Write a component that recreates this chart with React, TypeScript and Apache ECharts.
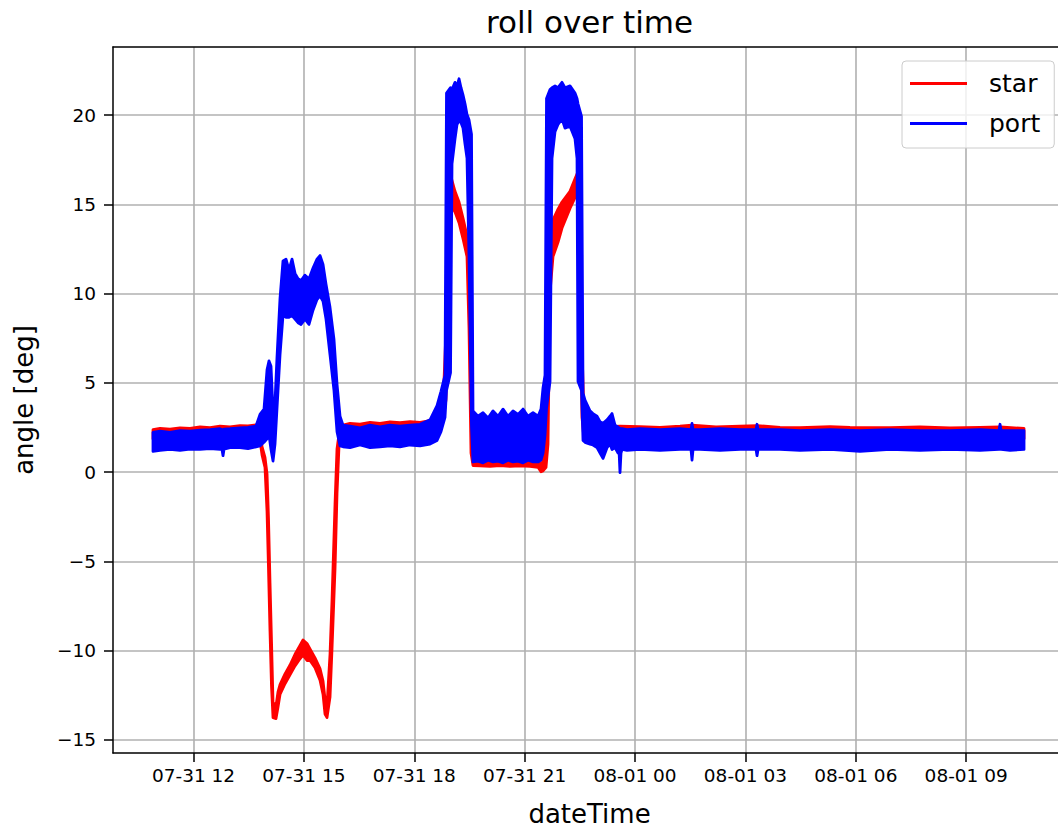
import React, { useEffect, useRef } from 'react';
import * as echarts from 'echarts';

// time in hours since 07-31 00:00
const starHours = [
  10.899, 11.090, 11.361, 11.633, 11.905, 12.177, 12.448, 12.720, 12.992, 13.264, 13.481, 13.699,
  13.807, 13.862, 13.943, 13.998, 14.038, 14.079, 14.120, 14.161, 14.242, 14.297, 14.351, 14.487,
  14.623, 14.759, 14.894, 14.976, 15.085, 15.166, 15.302, 15.438, 15.520, 15.574, 15.628, 15.710,
  15.764, 15.846, 15.900, 15.954, 16.063, 16.253, 16.525, 16.797, 17.069, 17.340, 17.612, 17.884,
  18.156, 18.428, 18.618, 18.781, 18.862, 18.930, 18.998, 19.107, 19.216, 19.324, 19.433, 19.487,
  19.542, 19.596, 19.786, 20.058, 20.330, 20.602, 20.874, 21.145, 21.363, 21.444, 21.499, 21.580,
  21.634, 21.689, 21.770, 21.906, 22.015, 22.232, 22.368, 22.450, 22.504, 22.558, 22.613, 22.776,
  23.048, 23.319, 23.591, 24.135, 24.678, 25.222, 25.548, 26.200, 26.853, 27.315, 27.940, 28.483,
  29.299, 29.842, 30.929, 31.745, 32.560, 33.375, 33.919, 34.571,
];
const starLow = [
  1.87, 1.92, 1.92, 1.92, 1.97, 1.97, 1.97, 2.02, 2.02, 2.02, 2.07, 2.07,
  1.77, 0.97, 0.27, -2.20, -5.40, -8.90, -12.00, -13.75, -13.80, -13.15, -12.45, -11.85,
  -11.35, -10.85, -10.45, -10.25, -10.55, -10.55, -10.95, -11.65, -12.45, -13.55, -13.75, -12.60,
  -9.90, -5.40, -1.20, 1.47, 1.97, 2.07, 2.07, 2.07, 2.07, 2.12, 2.12, 2.12,
  2.12, 2.17, 2.37, 2.87, 4.07, 12.07, 14.97, 14.57, 13.97, 13.07, 12.07, 8.07,
  1.07, 0.37, 0.35, 0.32, 0.37, 0.32, 0.35, 0.33, 0.27, 0.02, 0.07, 0.27,
  1.57, 10.07, 12.07, 12.87, 13.67, 14.77, 15.37, 15.77, 10.07, 3.07, 1.87, 1.97,
  1.97, 1.97, 1.97, 1.97, 1.97, 1.95, 1.92, 1.95, 1.92, 1.92, 1.92, 1.92,
  1.92, 1.89, 1.89, 1.87, 1.87, 1.87, 1.87, 1.87,
];
const starHigh = [
  2.38, 2.45, 2.41, 2.48, 2.45, 2.53, 2.49, 2.57, 2.53, 2.61, 2.59, 2.65,
  2.48, 1.43, 0.83, -0.10, -2.60, -6.20, -9.50, -12.90, -13.10, -12.30, -11.90, -11.30,
  -10.80, -10.20, -9.70, -9.40, -9.60, -9.90, -10.40, -11.00, -11.70, -12.70, -13.10, -10.20,
  -7.20, -1.80, 1.30, 2.13, 2.63, 2.73, 2.69, 2.78, 2.73, 2.81, 2.77, 2.83,
  2.78, 2.88, 3.13, 3.73, 7.93, 15.43, 16.53, 15.73, 15.13, 14.23, 13.23, 12.43,
  4.93, 0.83, 0.73, 0.71, 0.75, 0.69, 0.73, 0.71, 0.63, 0.43, 0.63, 1.43,
  7.93, 13.73, 14.13, 14.73, 15.13, 15.73, 16.43, 16.83, 15.43, 6.93, 3.13, 2.73,
  2.63, 2.55, 2.58, 2.55, 2.51, 2.57, 2.63, 2.53, 2.57, 2.61, 2.51, 2.49,
  2.55, 2.51, 2.49, 2.53, 2.48, 2.51, 2.53, 2.45,
];

const portHours = [
  10.899, 11.090, 11.361, 11.633, 11.905, 12.177, 12.448, 12.720, 12.775, 12.802, 12.830, 12.992,
  13.264, 13.481, 13.699, 13.807, 13.916, 13.998, 14.052, 14.106, 14.161, 14.215, 14.269, 14.351,
  14.432, 14.514, 14.595, 14.677, 14.759, 14.840, 14.922, 15.030, 15.139, 15.248, 15.356, 15.438,
  15.520, 15.601, 15.710, 15.818, 15.900, 15.982, 16.063, 16.253, 16.525, 16.797, 17.069, 17.340,
  17.612, 17.884, 18.156, 18.428, 18.618, 18.726, 18.835, 18.876, 18.985, 19.025, 19.107, 19.161,
  19.216, 19.270, 19.324, 19.379, 19.433, 19.487, 19.555, 19.596, 19.732, 19.868, 20.004, 20.140,
  20.276, 20.412, 20.547, 20.683, 20.819, 20.955, 21.091, 21.227, 21.363, 21.444, 21.499, 21.553,
  21.594, 21.689, 21.743, 21.825, 21.906, 22.015, 22.096, 22.232, 22.368, 22.423, 22.450, 22.545,
  22.586, 22.640, 22.776, 22.857, 22.966, 23.048, 23.129, 23.238, 23.319, 23.374, 23.455, 23.537,
  23.565, 23.591, 23.618, 23.646, 23.782, 24.135, 24.678, 25.222, 25.520, 25.548, 25.576, 25.765,
  26.309, 26.853, 27.288, 27.315, 27.343, 27.940, 28.483, 29.299, 30.114, 30.929, 31.745, 32.560,
  33.375, 33.892, 33.919, 33.946, 34.190, 34.571,
];
const portLow = [
  1.17, 1.22, 1.27, 1.22, 1.29, 1.27, 1.32, 1.27, 1.27, 0.92, 1.29, 1.37,
  1.37, 1.32, 1.42, 1.47, 1.67, 1.87, 2.07, 1.27, 0.62, 1.57, 3.57, 6.57,
  8.77, 8.67, 8.67, 8.77, 8.57, 8.37, 8.27, 8.57, 8.27, 9.07, 9.67, 9.87,
  9.57, 8.57, 6.57, 4.57, 2.27, 1.47, 1.42, 1.37, 1.52, 1.37, 1.42, 1.47,
  1.42, 1.52, 1.47, 1.57, 1.77, 2.27, 3.07, 4.57, 5.57, 17.27, 18.67, 19.47,
  19.67, 19.57, 19.27, 18.37, 17.57, 12.07, 2.57, 0.57, 0.62, 0.52, 0.67, 0.57,
  0.62, 0.52, 0.67, 0.57, 0.62, 0.52, 0.67, 0.57, 0.57, 0.67, 1.07, 2.07,
  3.57, 5.07, 17.57, 19.07, 19.47, 19.77, 19.27, 19.37, 18.67, 17.57, 5.07, 4.57,
  1.77, 1.67, 1.57, 1.52, 1.37, 1.07, 0.77, 1.37, 1.57, 1.27, 1.37, 1.07,
  1.17, -0.03, 1.07, 1.27, 1.22, 1.27, 1.22, 1.27, 1.27, 0.67, 1.27, 1.27,
  1.22, 1.27, 1.27, 0.92, 1.27, 1.27, 1.22, 1.27, 1.17, 1.27, 1.22, 1.27,
  1.22, 1.27, 1.27, 1.27, 1.22, 1.27,
];
const portHigh = [
  2.23, 2.29, 2.23, 2.33, 2.29, 2.35, 2.38, 2.43, 2.38, 2.38, 2.41, 2.43,
  2.48, 2.51, 2.58, 3.23, 3.53, 5.73, 6.23, 5.93, 3.43, 3.93, 6.43, 9.73,
  11.83, 11.93, 11.33, 11.93, 11.13, 10.83, 10.73, 11.03, 10.83, 11.43, 11.93, 12.13,
  11.63, 10.53, 9.23, 7.43, 4.93, 3.13, 2.63, 2.58, 2.48, 2.63, 2.53, 2.63,
  2.58, 2.63, 2.68, 2.93, 3.73, 4.53, 5.43, 21.23, 21.53, 21.43, 21.83, 21.63,
  22.03, 21.53, 21.13, 20.63, 20.03, 19.73, 18.93, 3.43, 3.13, 3.33, 3.03, 3.43,
  3.13, 3.53, 3.13, 3.43, 3.23, 3.53, 3.13, 3.33, 3.13, 3.53, 4.73, 5.43,
  20.93, 21.43, 21.53, 21.63, 21.53, 21.83, 21.53, 21.63, 21.23, 20.93, 20.63, 19.93,
  4.43, 4.03, 3.43, 3.28, 3.13, 2.83, 2.73, 2.93, 3.13, 3.28, 2.63, 2.53,
  2.48, 2.43, 2.43, 2.43, 2.38, 2.43, 2.38, 2.43, 2.38, 2.73, 2.38, 2.38,
  2.43, 2.38, 2.38, 2.68, 2.38, 2.38, 2.33, 2.38, 2.33, 2.38, 2.33, 2.33,
  2.38, 2.33, 2.68, 2.33, 2.33, 2.33,
];

const xTickHours = [12, 15, 18, 21, 24, 27, 30, 33];
const xTickLabels = ['07-31 12', '07-31 15', '07-31 18', '07-31 21', '08-01 00', '08-01 03', '08-01 06', '08-01 09'];
const yTicks = [-15, -10, -5, 0, 5, 10, 15, 20];

const FONT = 'DejaVu Sans';
const X_MIN = 9.812;
const X_MAX = 35.712;

function bandSeries(name: string, hours: number[], low: number[], high: number[], color: string) {
  const data = hours.map((h, i) => [h, low[i], high[i]]);
  return {
    type: 'custom',
    name,
    data,
    silent: true,
    xAxisIndex: 0,
    yAxisIndex: 0,
    encode: { x: 0, y: [1, 2] },
    itemStyle: { color },
    renderItem: (params: any, api: any) => {
      if (params.dataIndex !== 0) return null;
      const upper = data.map((d) => api.coord([d[0], d[2]]));
      const lower = data.map((d) => api.coord([d[0], d[1]])).reverse();
      return {
        type: 'polygon',
        shape: { points: upper.concat(lower) },
        style: { fill: color, stroke: color, lineWidth: 2.8, lineJoin: 'round' },
      };
    },
  };
}

export default function App() {
  const ref = useRef<HTMLDivElement>(null);
  useEffect(() => {
    document.body.style.margin = '0';
    document.body.style.overflow = 'hidden';
    if (!ref.current) return;
    const chart = echarts.init(ref.current, undefined, { renderer: 'svg' });
    chart.setOption({
      animation: false,
      backgroundColor: '#fff',
      title: {
        text: 'roll over time',
        left: 589.5,
        top: 6,
        textAlign: 'center',
        padding: 0,
        textStyle: { fontFamily: FONT, fontSize: 31, fontWeight: 'normal', color: '#000' },
      },
      grid: {
        left: 113, top: 47, width: 953, height: 706,
        containLabel: false,
        outerBoundsMode: 'none',
        show: false,
      },
      legend: {
        orient: 'vertical',
        left: 902,
        top: 61,
        data: [
          { name: 'star', icon: 'rect', itemStyle: { color: '#ff0000' } },
          { name: 'port', icon: 'rect', itemStyle: { color: '#0000ff' } },
        ],
        itemWidth: 57,
        itemHeight: 3,
        itemGap: 15,
        padding: [10, 14, 12, 8],
        backgroundColor: 'rgba(255,255,255,0.8)',
        borderColor: '#cccccc',
        borderWidth: 1,
        borderRadius: 4,
        selectedMode: false,
        textStyle: { fontFamily: FONT, fontSize: 25, color: '#000', padding: [0, 0, 0, 17] },
      },
      xAxis: [
        {
          type: 'value',
          min: X_MIN,
          max: X_MAX,
          position: 'bottom',
          name: 'dateTime',
          nameLocation: 'middle',
          nameGap: 48,
          nameTextStyle: { fontFamily: FONT, fontSize: 26, color: '#000' },
          axisLine: { show: true, onZero: false, lineStyle: { color: '#000', width: 1.5 } },
          axisTick: { show: true, customValues: xTickHours, length: 9, lineStyle: { color: '#000', width: 1.5 } },
          axisLabel: {
            customValues: xTickHours,
            formatter: (v: number) => {
              const i = xTickHours.indexOf(v);
              return i >= 0 ? xTickLabels[i] : '';
            },
            fontFamily: FONT,
            fontSize: 18.5,
            color: '#000',
            margin: 13,
          },
          splitLine: { show: true, lineStyle: { color: '#b0b0b0', width: 1.6 } },
        },
        {
          type: 'value',
          min: X_MIN,
          max: X_MAX,
          position: 'top',
          axisLine: { show: true, onZero: false, lineStyle: { color: '#000', width: 1.5 } },
          axisTick: { show: false },
          axisLabel: { show: false },
          splitLine: { show: false },
        },
      ],
      yAxis: {
        type: 'value',
        min: -15.73,
        max: 23.81,
        position: 'left',
        name: 'angle [deg]',
        nameLocation: 'middle',
        nameRotate: 90,
        nameGap: 76,
        nameTextStyle: { fontFamily: FONT, fontSize: 26, color: '#000' },
        axisLine: { show: true, onZero: false, lineStyle: { color: '#000', width: 1.5 } },
        axisTick: { show: true, customValues: yTicks, length: 9, lineStyle: { color: '#000', width: 1.5 } },
        axisLabel: {
          customValues: yTicks,
          formatter: (v: number) => String(v).replace('-', '\u2212'),
          fontFamily: FONT,
          fontSize: 18.5,
          color: '#000',
          margin: 17,
        },
        splitLine: { show: true, lineStyle: { color: '#b0b0b0', width: 1.6 } },
      },
      series: [
        bandSeries('star', starHours, starLow, starHigh, '#ff0000'),
        bandSeries('port', portHours, portLow, portHigh, '#0000ff'),
      ],
    });
    return () => chart.dispose();
  }, []);
  return <div ref={ref} style={{ width: 1058, height: 828 }} />;
}
